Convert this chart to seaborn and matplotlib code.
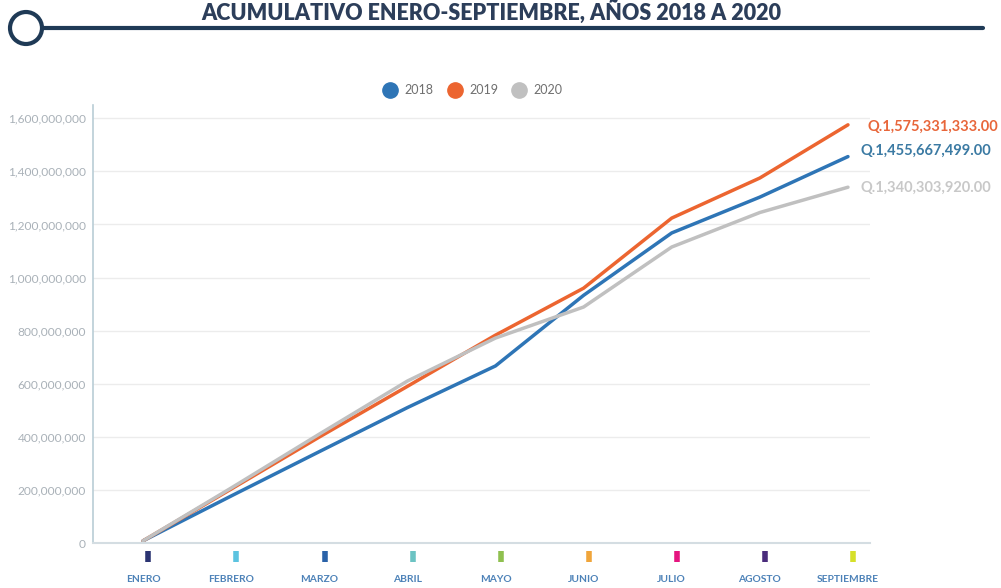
import matplotlib
matplotlib.use("Agg")
import matplotlib.pyplot as plt
import matplotlib.transforms as mtransforms
from matplotlib.lines import Line2D
from matplotlib.patches import Circle
import seaborn as sns
import pandas as pd

# ---- data ----
months = ["ENERO", "FEBRERO", "MARZO", "ABRIL", "MAYO", "JUNIO", "JULIO", "AGOSTO", "SEPTIEMBRE"]
month_colors = ["#2b3472", "#5cc3e0", "#2a62a8", "#6cc3c3", "#8fc04f", "#f0a53a", "#e5157f", "#4a2c7c", "#d6e02a"]
v2018 = [8e6, 177e6, 344e6, 510e6, 667e6, 933e6, 1168e6, 1303e6, 1455667499]
v2019 = [8e6, 203e6, 399e6, 590e6, 783e6, 960e6, 1224e6, 1375e6, 1575331333]
v2020 = [8e6, 207e6, 410e6, 610e6, 772e6, 889e6, 1115e6, 1245e6, 1340303920]
years = ["2018", "2019", "2020"]
year_colors = ["#2e75b6", "#ec6530", "#c0c0c0"]
final_labels = ["Q.1,455,667,499.00", "Q.1,575,331,333.00", "Q.1,340,303,920.00"]
label_colors = ["#3b7aa3", "#e8663a", "#c8c8c8"]
title = "ACUMULATIVO ENERO-SEPTIEMBRE, AÑOS 2018 A 2020"
yticks = [0, 200e6, 400e6, 600e6, 800e6, 1000e6, 1200e6, 1400e6, 1600e6]

rows = []
for y, vals in zip(years, [v2018, v2019, v2020]):
    for i, (m, v) in enumerate(zip(months, vals)):
        rows.append({"idx": i, "mes": m, "año": y, "valor": v})
df = pd.DataFrame(rows)

sns.set_style("white")
plt.rcParams["font.family"] = ["Lato", "DejaVu Sans"]

fig = plt.figure(figsize=(10.01, 5.88), dpi=100)
ax = fig.add_axes([93 / 1001, 1 - 543 / 588, (870 - 93) / 1001, (543 - 105) / 588])

sns.lineplot(data=df, x="idx", y="valor", hue="año", palette=dict(zip(years, year_colors)),
             linewidth=2.5, ax=ax, legend=False, sort=False)

ax.set_xlim(-0.567, 8.25)
ax.set_ylim(0, 1650e6)
ax.set_yticks(yticks)
ax.set_yticklabels([f"{int(t):,}" for t in yticks], fontsize=8.6, color="#a9b1b8")
ax.yaxis.grid(True, color="#ececec", linewidth=1)
ax.set_axisbelow(True)
ax.tick_params(axis="y", length=0, pad=5)
for s in ["top", "right"]:
    ax.spines[s].set_visible(False)
ax.spines["left"].set_color("#b9cdd6")
ax.spines["bottom"].set_color("#d4dde2")
ax.spines["left"].set_linewidth(1.2)
ax.spines["bottom"].set_linewidth(1.5)
ax.set_xlabel("")
ax.set_ylabel("")

ax.set_xticks(range(len(months)))
ax.set_xticklabels(months, fontsize=7.4, fontweight="bold", color="#4d82b8")
ax.tick_params(axis="x", length=0, pad=23)

# colored month bars below axis
trans = mtransforms.blended_transform_factory(ax.transData, ax.transAxes)
for i, c in enumerate(month_colors):
    ax.plot([i + 0.06, i + 0.06], [-0.018, -0.043], color=c, linewidth=4, transform=trans,
            clip_on=False, solid_capstyle="butt")

# end labels
offsets = [(9, 4), (14, -1.6), (9, -0.7)]
for vals, lab, col, (dx, dy) in zip([v2018, v2019, v2020], final_labels, label_colors, offsets):
    ax.annotate(lab, xy=(8, vals[-1]), xytext=(dx, dy), textcoords="offset points",
                fontsize=10.5, fontweight="bold", color=col, va="center", ha="left",
                annotation_clip=False)

# legend
handles = [Line2D([0], [0], marker="o", linestyle="", markersize=11, markerfacecolor=c,
                  markeredgecolor=c) for c in year_colors]
fig.legend(handles, years, loc="center", bbox_to_anchor=(470 / 1001, 1 - 90 / 588), ncol=3,
           frameon=False, fontsize=9, labelcolor="#6f6f6f", handletextpad=0.15, columnspacing=0.7)

# title header
fig.text(491 / 1001, 1 - 12 / 588, title, ha="center", va="center", fontsize=15.5,
         fontweight="heavy", color="#2c3e5a")
fig.add_artist(Line2D([43 / 1001, 983 / 1001], [1 - 28 / 588, 1 - 28 / 588], color="#1f3a56",
                      linewidth=3, transform=fig.transFigure))
fig.add_artist(Circle((26, 588 - 28), 16, transform=None, fill=False, edgecolor="#1f3a56",
                      linewidth=3))

fig.savefig("out.png", dpi=100, facecolor="white")
